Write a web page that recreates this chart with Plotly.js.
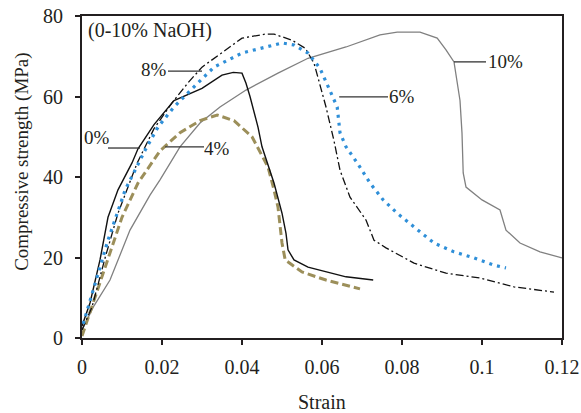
<!DOCTYPE html>
<html>
<head>
<meta charset="utf-8">
<script src="https://cdn.plot.ly/plotly-3.0.1.min.js"></script>
<style>html,body{margin:0;padding:0;background:#fff;}#chart{width:581px;height:413px;}</style>
</head>
<body>
<div id="chart"></div>
<script>
// 0% NaOH
var strain0 = [0, .002, .0045, .0065, .009, .0125, .014, .018, .023, .030, .035, .0378, .040, .041, .042, .043, .044, .045, .0458, .048, .050, .051, .0515, .053, .0565, .061, .066, .0728];
var stress0 = [3, 8.7, 19.4, 30, 36.8, 43.5, 47, 53, 59, 62, 65.3, 66, 65.8, 63.3, 60, 56, 52.4, 47.5, 45, 38.5, 31, 26, 21.9, 19.4, 17.6, 16.4, 15.2, 14.4];
// 4% NaOH
var strain4 = [0, .003, .0065, .010, .014, .017, .0195, .0245, .0295, .0338, .038, .0425, .0465, .048, .049, .050, .0508, .055, .061, .0695];
var stress4 = [0.5, 9.4, 19.4, 30, 38.5, 43, 46.5, 51, 54, 55.4, 54, 50, 42.5, 36.8, 32.5, 23.6, 19.4, 16.4, 14.4, 12.2];
// 6% NaOH
var strain6 = [0.0003, .003, .0065, .0108, .0158, .019, .023, .028, .033, .040, .0458, .050, .053, .0565, .0595, .062, .0638, .0645, .066, .0688, .072, .0753, .0788, .083, .088, .093, .098, .103, .106];
var stress6 = [3.5, 12.7, 24.3, 36.8, 46.7, 52.4, 57.4, 62.4, 67.3, 70.8, 72.3, 73.3, 72.8, 70.8, 67, 61.6, 57.4, 51, 47.5, 43.5, 38.5, 34.3, 31, 27.6, 23.6, 21.4, 19.9, 18.1, 17.4];
// 8% NaOH
var strain8 = [0, .0025, .0058, .009, .0138, .018, .0225, .0265, .030, .0358, .040, .0458, .048, .0525, .0558, .058, .0595, .061, .063, .0645, .067, .071, .073, .076, .083, .091, .0995, .108, .118];
var stress8 = [2, 7.7, 20, 31, 43.5, 52, 58.4, 63.4, 67.3, 71.6, 74.5, 75.5, 75.5, 74, 72, 68.3, 63, 57.4, 49, 41.7, 35, 29.3, 24.3, 22.4, 18.6, 16.1, 14.9, 12.7, 11.4];
// 10% NaOH
var strain10 = [0, .003, .007, .012, .017, .0195, .0245, .0295, .0345, .041, .049, .0565, .066, .0745, .0788, .0845, .0888, .091, .093, .0945, .095, .0953, .096, .100, .1045, .106, .1095, .1145, .12];
var stress10 = [2, 8, 14.4, 26.8, 35.5, 39.3, 47.5, 53.4, 57.4, 61.6, 65.8, 69.5, 72.3, 75.3, 76, 76, 74.5, 71.6, 68.6, 59, 50.9, 41, 37.5, 34.3, 31.8, 26.8, 23.6, 21.4, 19.9];

var xTicks = [0, 0.02, 0.04, 0.06, 0.08, 0.1, 0.12];
var xTickText = ['0', '0.02', '0.04', '0.06', '0.08', '0.1', '0.12'];
var yTicks = [0, 20, 40, 60, 80];

var FONT = 'Liberation Serif, Times New Roman, serif';
var TXT = '#231f20';

var traces = [
  {x: strain10, y: stress10, mode: 'lines', line: {color: '#808080', width: 1.3}, name: '10%'},
  {x: strain4, y: stress4, mode: 'lines', line: {color: '#9c8f5a', width: 3, dash: '8px,4px'}, name: '4%'},
  {x: strain0, y: stress0, mode: 'lines', line: {color: '#111111', width: 1.4}, name: '0%'},
  {x: strain8, y: stress8, mode: 'lines', line: {color: '#111111', width: 1.3, dash: '8px,3px,2px,3px'}, name: '8%'},
  {x: strain6, y: stress6, mode: 'lines', line: {color: '#2f8fd8', width: 3.2, dash: '3px,5px'}, name: '6%'}
];

function lbl(text, x, y, anchor, size) {
  return {x: x, y: y, xref: 'x', yref: 'y', text: text, showarrow: false,
    xanchor: anchor || 'center', yanchor: 'middle', font: {family: FONT, size: size || 19, color: TXT}};
}
function lead(x0, x1, y) {
  return {type: 'line', xref: 'x', yref: 'y', x0: x0, x1: x1, y0: y, y1: y, line: {color: '#333', width: 1.3}};
}

var layout = {
  width: 581, height: 413,
  margin: {l: 82, r: 19, t: 16, b: 75},
  paper_bgcolor: '#fff', plot_bgcolor: '#fff',
  showlegend: false,
  font: {family: FONT, color: TXT, size: 19},
  xaxis: {
    range: [0, 0.12], tickvals: xTicks, ticktext: xTickText,
    showgrid: false, zeroline: false, showline: true, linecolor: '#231f20', linewidth: 2, mirror: true,
    ticks: 'outside', ticklen: 5, tickwidth: 2, tickcolor: '#231f20', ticklabelstandoff: 5,
    tickfont: {family: FONT, size: 20, color: TXT}
  },
  yaxis: {
    range: [0, 80], tickvals: yTicks,
    showgrid: false, zeroline: false, showline: true, linecolor: '#231f20', linewidth: 2, mirror: true,
    ticks: 'outside', ticklen: 5, tickwidth: 2, tickcolor: '#231f20', ticklabelstandoff: 8,
    tickfont: {family: FONT, size: 20, color: TXT}
  },
  annotations: [
    {text: 'Strain', xref: 'paper', yref: 'paper', x: 0.5, y: -0.198,
     xanchor: 'center', yanchor: 'middle', showarrow: false,
     font: {family: FONT, size: 20, color: TXT}},
    {text: 'Compressive strength (MPa)', textangle: -90, xref: 'paper', yref: 'paper',
     x: -0.125, y: 0.547, xanchor: 'center', yanchor: 'middle', showarrow: false,
     font: {family: FONT, size: 19, color: TXT}},
    lbl('(0-10% NaOH)', 0.001, 76.4, 'left', 20),
    lbl('8%', 0.018, 66.6),
    lbl('0%', 0.00375, 49.9),
    lbl('4%', 0.0338, 47.2),
    lbl('6%', 0.080, 59.9),
    lbl('10%', 0.1058, 68.6)
  ],
  shapes: [
    lead(0.0215, 0.030, 66.3),
    lead(0.0065, 0.0145, 47.2),
    lead(0.0208, 0.0305, 47.5),
    lead(0.0643, 0.0765, 59.9),
    lead(0.093, 0.101, 68.6)
  ]
};

Plotly.newPlot('chart', traces, layout, {staticPlot: true, displayModeBar: false});
</script>
</body>
</html>
